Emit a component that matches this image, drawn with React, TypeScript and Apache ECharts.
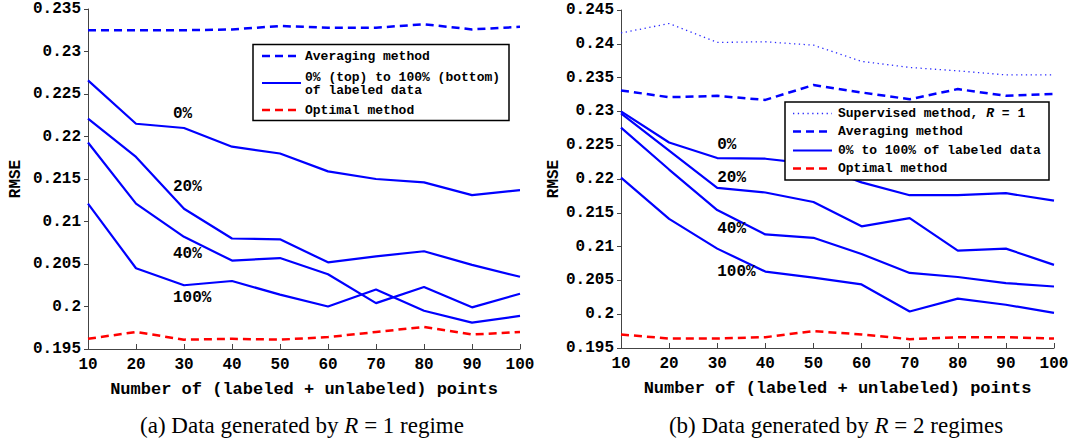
import React, { useEffect, useRef } from "react";
import * as echarts from "echarts";

const X = [10, 20, 30, 40, 50, 60, 70, 80, 90, 100];

// (a) R = 1 regime
const leftAvg = [0.2325, 0.2325, 0.2325, 0.2326, 0.233, 0.2328, 0.2328, 0.2332, 0.2326, 0.2329];
const leftP0 = [0.2266, 0.2215, 0.221, 0.2188, 0.218, 0.2159, 0.215, 0.2146, 0.2131, 0.2137];
const leftP20 = [0.2221, 0.2176, 0.2115, 0.208, 0.2079, 0.2052, 0.2059, 0.2065, 0.2049, 0.2035];
const leftP40 = [0.2193, 0.2121, 0.2082, 0.2054, 0.2057, 0.2038, 0.2004, 0.2023, 0.1999, 0.2015];
const leftP100 = [0.2121, 0.2045, 0.2025, 0.203, 0.2014, 0.2, 0.202, 0.1995, 0.1981, 0.1989];
const leftOpt = [0.1962, 0.197, 0.1961, 0.1962, 0.1961, 0.1964, 0.197, 0.1976, 0.1967, 0.197];

// (b) R = 2 regimes
const rightSup = [0.2416, 0.243, 0.2402, 0.2403, 0.2398, 0.2374, 0.2365, 0.236, 0.2354, 0.2354];
const rightAvg = [0.2331, 0.2321, 0.2323, 0.2317, 0.2339, 0.2328, 0.2318, 0.2333, 0.2323, 0.2326];
const rightP0 = [0.23, 0.2254, 0.2231, 0.223, 0.2222, 0.2195, 0.2176, 0.2176, 0.2179, 0.2168];
const rightP20 = [0.2297, 0.2242, 0.2187, 0.218, 0.2166, 0.213, 0.2142, 0.2094, 0.2097, 0.2073];
const rightP40 = [0.2276, 0.2214, 0.2154, 0.2118, 0.2113, 0.2089, 0.2061, 0.2055, 0.2046, 0.2041];
const rightP100 = [0.2202, 0.2141, 0.2097, 0.2063, 0.2054, 0.2044, 0.2004, 0.2023, 0.2014, 0.2002];
const rightOpt = [0.197, 0.1964, 0.1964, 0.1966, 0.1975, 0.197, 0.1963, 0.1966, 0.1966, 0.1964];

const pctLabels = ["0%", "20%", "40%", "100%"];
const leftPctAt = [[27.7, 0.2226], [27.7, 0.2141], [27.7, 0.2062], [27.7, 0.201]];
const rightPctAt = [[30.0, 0.225], [30.0, 0.2202], [30.0, 0.2126], [30.0, 0.2063]];

const xName = "Number of (labeled + unlabeled) points";
const yName = "RMSE";
const leftLegend = ["Averaging method", "0% (top) to 100% (bottom)\nof labeled data", "Optimal method"];
const rightLegend = ["Supervised method, ", "Averaging method", "0% to 100% of labeled data", "Optimal method"];

const MONO = "'Liberation Mono', 'DejaVu Sans Mono', monospace";
const SERIF = "'Liberation Serif', 'DejaVu Serif', serif";
const BLUE = "#0000ff";
const RED = "#ff0000";

const pairs = (ys: number[]) => X.map((x, i) => [x, ys[i]]);
const fmt = (v: number) => String(parseFloat(v.toFixed(3)));

function solid(ys: number[], xi: number) {
  return {
    type: "line", xAxisIndex: xi, yAxisIndex: xi, data: pairs(ys), symbol: "none",
    lineStyle: { color: BLUE, width: 2.2 }, z: 3,
  };
}
function dashed(ys: number[], xi: number, color: string) {
  return {
    type: "line", xAxisIndex: xi, yAxisIndex: xi, data: pairs(ys), symbol: "none",
    lineStyle: { color, width: 2.5, type: [8, 5] }, z: 3,
  };
}
function dotted(ys: number[], xi: number) {
  return {
    type: "line", xAxisIndex: xi, yAxisIndex: xi, data: pairs(ys), symbol: "none",
    lineStyle: { color: "#2a2aff", width: 1.3, type: [1.3, 3.5] }, z: 3,
  };
}

function xAxis(gi: number) {
  return {
    type: "value", gridIndex: gi, min: 10, max: 100, interval: 10,
    name: xName, nameLocation: "middle", nameGap: 32,
    nameTextStyle: { fontFamily: MONO, fontWeight: "bold", fontSize: 17, color: "#000" },
    axisLine: { lineStyle: { color: "#444", width: 1 } },
    axisTick: { inside: true, length: 5, lineStyle: { color: "#444" } },
    axisLabel: { fontFamily: MONO, fontWeight: "bold", fontSize: 16, color: "#000", margin: 8 },
    splitLine: { show: false },
  };
}
function yAxis(gi: number, max: number, gap: number) {
  return {
    type: "value", gridIndex: gi, min: 0.195, max, interval: 0.005,
    name: yName, nameLocation: "middle", nameGap: gap, nameRotate: 90,
    nameTextStyle: { fontFamily: MONO, fontWeight: "bold", fontSize: 16, color: "#000" },
    axisLine: { show: true, lineStyle: { color: "#444", width: 1 } },
    axisTick: { show: true, inside: false, length: 4, lineStyle: { color: "#444" } },
    axisLabel: { fontFamily: MONO, fontWeight: "bold", fontSize: 16, color: "#000", margin: 7, formatter: fmt },
    splitLine: { show: false },
  };
}

function legendLine(x1: number, x2: number, y: number, stroke: string, lineWidth: number, lineDash?: number[]) {
  return { type: "line", z: 101, shape: { x1, y1: y, x2, y2: y }, style: { stroke, lineWidth, lineDash } };
}
function legendText(x: number, y: number, text: string) {
  return {
    type: "text", z: 101, x, y,
    style: { text, font: `bold 13px ${MONO}`, fill: "#000", align: "left", verticalAlign: "middle", lineHeight: 13 },
  };
}

export default function App() {
  const ref = useRef<HTMLDivElement>(null);
  useEffect(() => {
    if (!ref.current) return;
    const chart = echarts.init(ref.current, undefined, { renderer: "svg" });
    chart.setOption({
      animation: false,
      backgroundColor: "#fff",
      grid: [
        { left: 88, top: 9, width: 432, height: 340 },
        { left: 621, top: 10, width: 433, height: 338 },
      ],
      xAxis: [xAxis(0), xAxis(1)],
      yAxis: [yAxis(0, 0.235, 64), yAxis(1, 0.245, 58)],
      series: [
        dashed(leftAvg, 0, BLUE),
        solid(leftP0, 0), solid(leftP20, 0), solid(leftP40, 0), solid(leftP100, 0),
        dashed(leftOpt, 0, RED),
        dotted(rightSup, 1),
        dashed(rightAvg, 1, BLUE),
        solid(rightP0, 1), solid(rightP20, 1), solid(rightP40, 1), solid(rightP100, 1),
        dashed(rightOpt, 1, RED),
      ],
    });

    const annot: any[] = [];
    pctLabels.forEach((t, i) => {
      const p1 = chart.convertToPixel({ xAxisIndex: 0, yAxisIndex: 0 }, leftPctAt[i]) as number[];
      const p2 = chart.convertToPixel({ xAxisIndex: 1, yAxisIndex: 1 }, rightPctAt[i]) as number[];
      [p1, p2].forEach((p) =>
        annot.push({
          type: "text", z: 50, x: p[0], y: p[1],
          style: { text: t, font: `bold 16px ${MONO}`, fill: "#000", align: "left", verticalAlign: "middle" },
        })
      );
    });

    const legendA = [
      { type: "rect", z: 100, shape: { x: 253, y: 44.5, width: 256, height: 76 }, style: { fill: "#fff", stroke: "#000", lineWidth: 1.5 } },
      legendLine(262, 301, 56, BLUE, 2.5, [8, 5]),
      legendText(305, 56, leftLegend[0]),
      legendLine(262, 301, 83, BLUE, 2),
      legendText(305, 84, leftLegend[1]),
      legendLine(262, 301, 110, RED, 2.5, [8, 5]),
      legendText(305, 110, leftLegend[2]),
    ];
    const legendB = [
      { type: "rect", z: 100, shape: { x: 785, y: 102, width: 264, height: 78 }, style: { fill: "#fff", stroke: "#000", lineWidth: 1.5 } },
      legendLine(793, 832, 113.5, "#2a2aff", 1.3, [1.3, 3.5]),
      {
        type: "text", z: 101, x: 838, y: 113.5,
        style: {
          text: `{n|${rightLegend[0]}}{i|R}{n| = 1}`, align: "left", verticalAlign: "middle",
          rich: {
            n: { font: `bold 13px ${MONO}`, fill: "#000" },
            i: { font: `italic bold 13px ${MONO}`, fill: "#000" },
          },
        },
      },
      legendLine(793, 832, 131.5, BLUE, 2.5, [8, 5]),
      legendText(838, 131.5, rightLegend[1]),
      legendLine(793, 832, 150.5, BLUE, 2),
      legendText(838, 150.5, rightLegend[2]),
      legendLine(793, 832, 168.5, RED, 2.5, [8, 5]),
      legendText(838, 168.5, rightLegend[3]),
    ];
    const caption = (cx: number, pre: string, post: string) => ({
      type: "text", z: 100, x: cx, y: 425,
      style: {
        text: `{n|${pre}}{i|R}{n| = ${post}}`, align: "center", verticalAlign: "middle",
        rich: {
          n: { font: `23px ${SERIF}`, fill: "#000" },
          i: { font: `italic 23px ${SERIF}`, fill: "#000" },
        },
      },
    });

    chart.setOption({
      graphic: [
        ...annot, ...legendA, ...legendB,
        caption(302, "(a) Data generated by ", "1 regime"),
        caption(836, "(b) Data generated by ", "2 regimes"),
      ],
    });
    return () => chart.dispose();
  }, []);
  return <div ref={ref} style={{ position: "absolute", left: 0, top: 0, width: 1078, height: 442 }} />;
}
